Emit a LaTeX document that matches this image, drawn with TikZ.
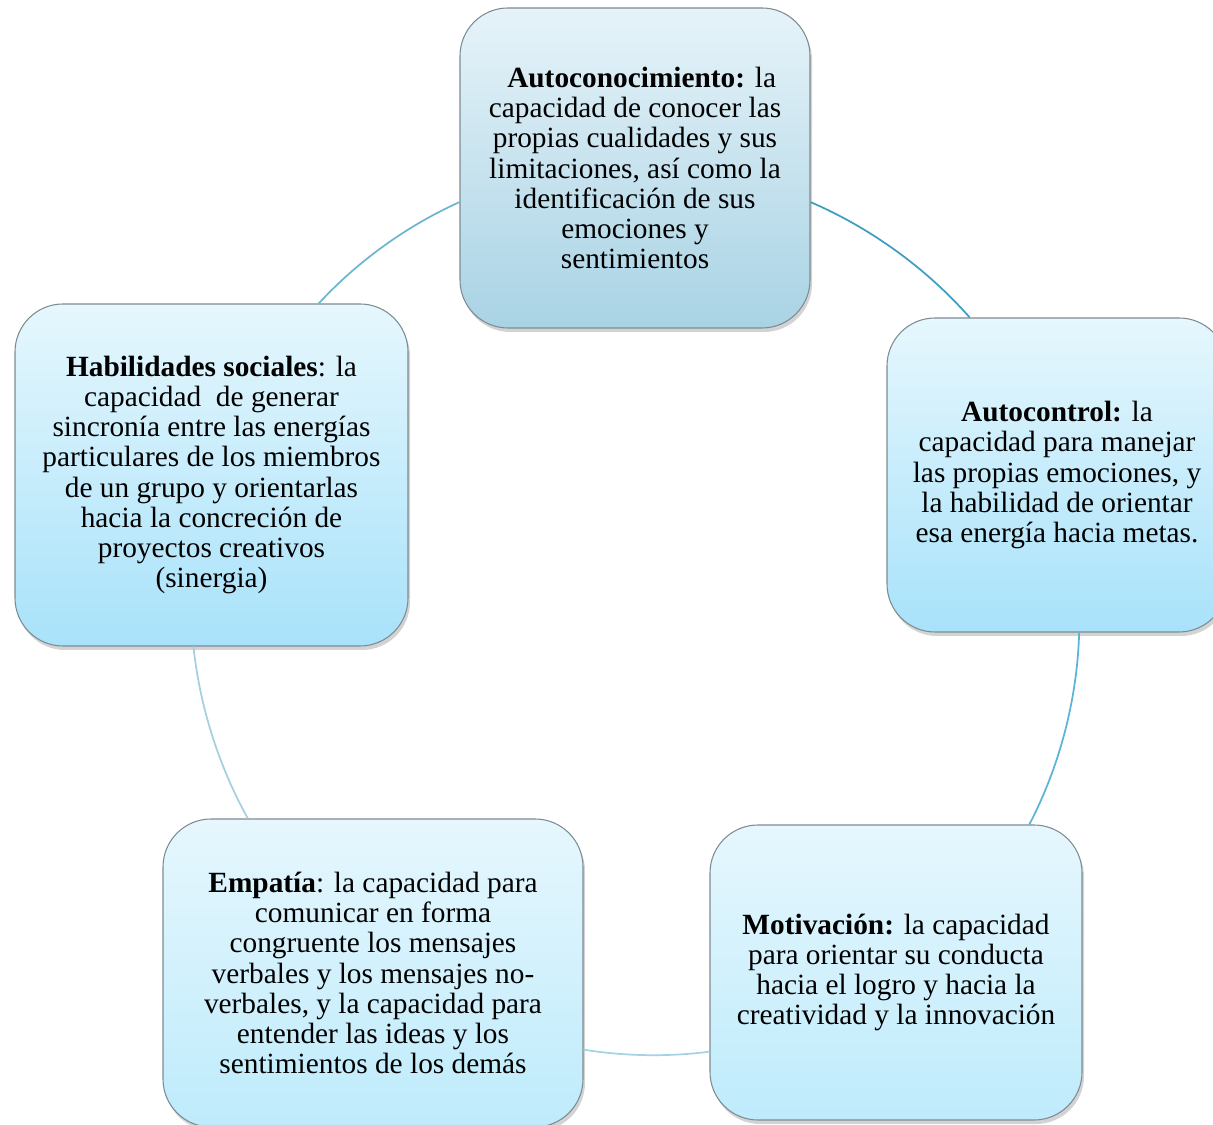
\documentclass[tikz,border=0pt]{standalone}
\usepackage{fontspec}
\setmainfont{Liberation Serif}
\usepackage{xcolor}
\usepackage{tikz}
\usetikzlibrary{shadows}
\definecolor{cardedge}{HTML}{7D8C92}
\definecolor{selftop}{HTML}{E6F3F9}
\definecolor{selfbot}{HTML}{A9D3E4}
\definecolor{skytop}{HTML}{E6F7FD}
\definecolor{skybot}{HTML}{A8E2FA}
\definecolor{palebot}{HTML}{BEEBFC}
\definecolor{ringA}{HTML}{3D9EC0}
\definecolor{ringB}{HTML}{5BB4D6}
\definecolor{ringC}{HTML}{A3D3E5}
\definecolor{ringD}{HTML}{A6CFDF}
\definecolor{ringE}{HTML}{6DB6D0}

\begin{document}
\begin{tikzpicture}[x=0.75pt,y=0.75pt,
  card/.style={rounded corners=36pt,draw=cardedge,line width=0.8pt,align=center,inner sep=0pt,
    font=\fontsize{22pt}{22.7pt}\selectfont,drop shadow={shadow xshift=1.5pt,shadow yshift=-3pt,opacity=0.35}},
  link/.style={line width=1.3pt,looseness=0.85}]
\clip (0,0) rectangle (1213,1124);
\node[card,minimum width=262.5pt,minimum height=240pt,top color=selftop,bottom color=selfbot] (self) at (635,956)
  {\hspace*{10pt}\textbf{Autoconocimiento:} la\\capacidad de conocer las\\propias cualidades y sus\\limitaciones, así como la\\identificación de sus\\emociones y\\sentimientos};
\node[card,minimum width=255pt,minimum height=235.5pt,top color=skytop,bottom color=skybot] (ctrl) at (1057,649)
  {\textbf{Autocontrol:} la\\capacidad para manejar\\las propias emociones, y\\la habilidad de orientar\\esa energía hacia metas.};
\node[card,minimum width=279pt,minimum height=221.25pt,top color=skytop,bottom color=palebot] (motiv) at (896,151.5)
  {\textbf{Motivación:} la capacidad\\para orientar su conducta\\hacia el logro y hacia la\\creatividad y la innovación};
\node[card,minimum width=315pt,minimum height=231pt,top color=skytop,bottom color=palebot] (empat) at (373,151)
  {\textbf{Empatía}: la capacidad para\\comunicar en forma\\congruente los mensajes\\verbales y los mensajes no-\\verbales, y la capacidad para\\entender las ideas y los\\sentimientos de los demás};
\node[card,minimum width=294.75pt,minimum height=256.5pt,top color=skytop,bottom color=skybot] (social) at (211.5,649)
  {\textbf{Habilidades sociales}: la\\capacidad\ \ de generar\\sincronía entre las energías\\particulares de los miembros\\de un grupo y orientarlas\\hacia la concreción de\\proyectos creativos\\(sinergia)};
\draw[link,ringA] (self.-11.6) to[bend left=12.7] (ctrl.119.6);
\draw[link,ringB] (ctrl.-82.2) to[bend left=13] (motiv.48.9);
\draw[link,ringC] (motiv.-157.5) to[bend left=8.2] (empat.-20.35);
\draw[link,ringD] (empat.129.9) to[bend left=11.6] (social.-96.4);
\draw[link,ringE] (social.58.8) to[bend left=11.5] (self.191.6);
\end{tikzpicture}
\end{document}
